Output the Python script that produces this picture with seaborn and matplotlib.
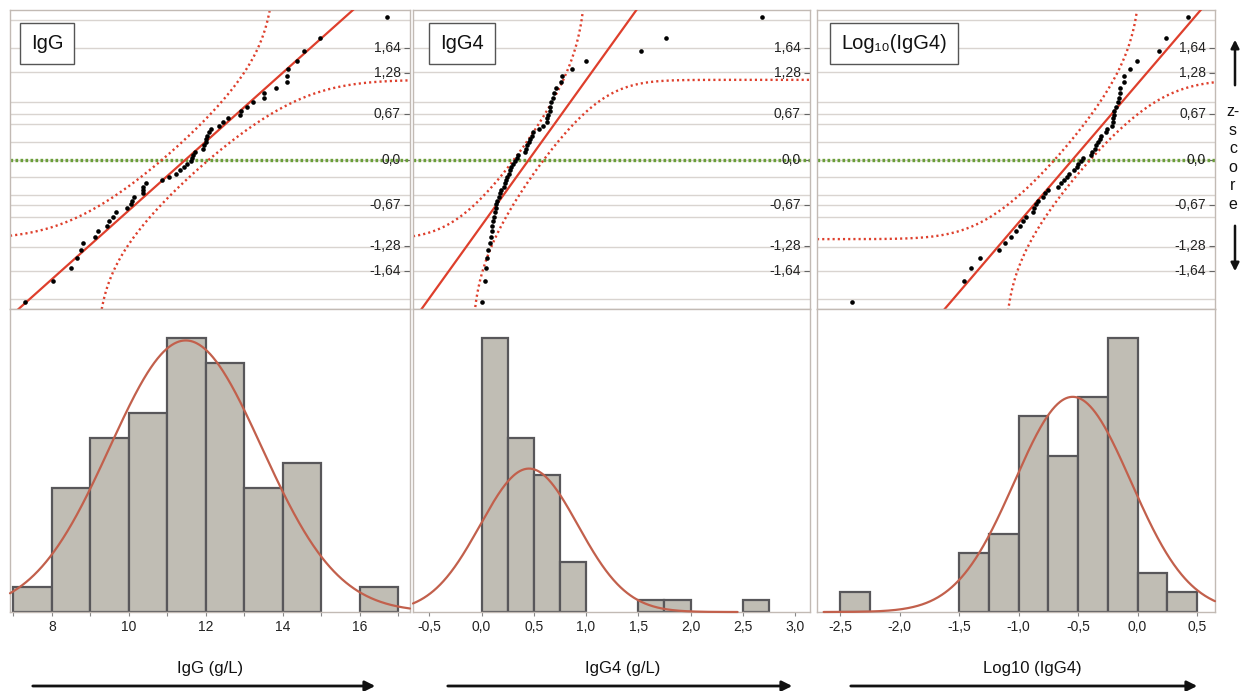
import numpy as np
import pandas as pd
import matplotlib
matplotlib.use("Agg")
import matplotlib.pyplot as plt
import matplotlib.transforms as mtransforms
from matplotlib.patches import FancyArrowPatch
from statistics import NormalDist
import seaborn as sns

# ---------------- data ----------------
igg = [7.30, 8.03, 8.49, 8.66, 8.75, 8.81, 9.12, 9.20, 9.44, 9.48,
       9.58, 9.66, 9.96, 10.05, 10.09, 10.13, 10.36, 10.36, 10.37, 10.44,
       10.87, 11.03, 11.22, 11.33, 11.43, 11.52, 11.61, 11.65, 11.67, 11.72,
       11.93, 11.95, 12.01, 12.01, 12.03, 12.08, 12.12, 12.35, 12.43, 12.58,
       12.88, 12.90, 13.07, 13.23, 13.51, 13.51, 13.82, 14.11, 14.11, 14.14,
       14.36, 14.55, 14.96, 16.69]
igg4 = [0.007, 0.032, 0.038, 0.048, 0.064, 0.077, 0.086, 0.096, 0.102, 0.108,
        0.118, 0.128, 0.134, 0.140, 0.150, 0.166, 0.175, 0.190, 0.213, 0.223,
        0.236, 0.248, 0.261, 0.272, 0.284, 0.303, 0.319, 0.335, 0.351, 0.411,
        0.421, 0.437, 0.453, 0.459, 0.485, 0.497, 0.548, 0.587, 0.622, 0.628,
        0.635, 0.651, 0.654, 0.660, 0.682, 0.692, 0.708, 0.763, 0.772, 0.868,
        0.995, 1.530, 1.767, 2.686]
log_igg4 = [-2.400, -1.463, -1.401, -1.328, -1.163, -1.112, -1.062, -1.022, -0.986, -0.964,
            -0.936, -0.883, -0.868, -0.854, -0.840, -0.799, -0.782, -0.756, -0.672, -0.641,
            -0.622, -0.593, -0.580, -0.538, -0.509, -0.502, -0.475, -0.459, -0.391, -0.383,
            -0.361, -0.347, -0.336, -0.319, -0.307, -0.265, -0.255, -0.215, -0.210, -0.210,
            -0.201, -0.196, -0.179, -0.168, -0.159, -0.151, -0.147, -0.117, -0.111, -0.067,
            -0.005, 0.180, 0.242, 0.424]

titles = ["IgG", "IgG4", "Log\u2081\u2080(IgG4)"]
xlabels = ["IgG (g/L)", "IgG4 (g/L)", "Log10 (IgG4)"]

igg_bins = [7, 8, 9, 10, 11, 12, 13, 14, 15, 16, 17]
igg4_bins = [0.0, 0.25, 0.5, 0.75, 1.0, 1.25, 1.5, 1.75, 2.0, 2.25, 2.5, 2.75]
log_bins = [-2.5, -2.25, -2.0, -1.75, -1.5, -1.25, -1.0, -0.75, -0.5, -0.25, 0.0, 0.25, 0.5]

igg_ticks = [8, 10, 12, 14, 16]
igg_ticklabels = ["8", "10", "12", "14", "16"]
igg_minor = [7, 9, 11, 13, 15, 17]
igg4_ticks = [-0.5, 0.0, 0.5, 1.0, 1.5, 2.0, 2.5, 3.0]
igg4_ticklabels = ["-0,5", "0,0", "0,5", "1,0", "1,5", "2,0", "2,5", "3,0"]
log_ticks = [-2.5, -2.0, -1.5, -1.0, -0.5, 0.0, 0.5]
log_ticklabels = ["-2,5", "-2,0", "-1,5", "-1,0", "-0,5", "0,0", "0,5"]

z_values = [1.64, 1.28, 0.67, 0.0, -0.67, -1.28, -1.64]
z_labels = ["1,64", "1,28", "0,67", "0,0", "-0,67", "-1,28", "-1,64"]
grid_probs = [0.02, 0.05, 0.10, 0.20, 0.25, 0.30, 0.40, 0.50,
              0.60, 0.70, 0.75, 0.80, 0.90, 0.95, 0.98]

# ---------------- style / layout ----------------
sns.set_style("white")
plt.rcParams["font.family"] = ["Liberation Sans", "DejaVu Sans"]

W, H = 1242, 691
fig = plt.figure(figsize=(W / 100, H / 100), dpi=100)

FRAME = "#c2bab4"
GRID = "#d9d4d0"
RED = "#de3f2c"
CURVE = "#c2604c"
BAR = "#c0bdb4"
BAR_EDGE = "#58575a"
GREEN = "#6a9e3a"

cols = [(10, 410), (413, 810), (817, 1215)]
top_y = (10, 309)
bot_y = (309, 612)


def rect(x0, x1, y0, y1):
    return [x0 / W, 1 - y1 / H, (x1 - x0) / W, (y1 - y0) / H]


panels = [
    dict(data=igg, bins=igg_bins, ticks=igg_ticks, labels=igg_ticklabels, minor=igg_minor,
         xlim=(6.91, 17.30), curve=(6.91, 17.30), title_x=0.052),
    dict(data=igg4, bins=igg4_bins, ticks=igg4_ticks, labels=igg4_ticklabels, minor=None,
         xlim=(-0.656, 3.143), curve=(-0.656, 2.45), title_x=0.068),
    dict(data=log_igg4, bins=log_bins, ticks=log_ticks, labels=log_ticklabels, minor=None,
         xlim=(-2.696, 0.651), curve=(-2.64, 0.651), title_x=0.060),
]

nd = NormalDist()
grid_z = [nd.inv_cdf(p) for p in grid_probs]

for i, P in enumerate(panels):
    x0, x1 = cols[i]
    data = np.sort(np.asarray(P["data"], dtype=float))
    n = len(data)
    mu = data.mean()
    sd = data.std(ddof=1)
    bw = P["bins"][1] - P["bins"][0]

    # ---------- top: normal quantile plot ----------
    axq = fig.add_axes(rect(x0, x1, *top_y))
    axq.set_xlim(*P["xlim"])
    axq.set_ylim(-2.2, 2.2)
    for gz in grid_z:
        axq.axhline(gz, color=GRID, lw=1.0, zorder=0)
    axq.axhline(0.0, color=GREEN, lw=2.4, ls=(0, (0.8, 0.7)), zorder=1)

    xs = np.linspace(P["xlim"][0], P["xlim"][1], 4000)
    t = (xs - mu) / sd
    cdf = np.array([nd.cdf(v) for v in t])
    D = 0.886 / np.sqrt(n)
    for sign in (1, -1):
        p = cdf + sign * D
        z = np.full_like(xs, np.nan)
        ok = (p > 1e-7) & (p < 1 - 1e-7)
        z[ok] = [nd.inv_cdf(v) for v in p[ok]]
        axq.plot(xs, z, color=RED, lw=1.7, ls=(0, (0.9, 1.3)), zorder=2)
    axq.plot(xs, t, color=RED, lw=1.6, zorder=3)

    zq = [nd.inv_cdf(k / (n + 1)) for k in range(1, n + 1)]
    sns.scatterplot(x=data, y=zq, ax=axq, color="black", s=11, linewidth=0, zorder=4)

    axq.set_xticks([])
    axq.set_yticks(z_values)
    axq.yaxis.tick_right()
    axq.tick_params(axis="y", direction="in", length=4, width=0.8, color="#666666",
                    labelright=False, right=True, left=False)
    tr = mtransforms.blended_transform_factory(axq.transAxes, axq.transData)
    wpx = x1 - x0
    for zv, zl in zip(z_values, z_labels):
        axq.text(1 - 9 / wpx, zv, zl, transform=tr, ha="right", va="center",
                 fontsize=10, color="#222222", zorder=5)
    for s in axq.spines.values():
        s.set_color(FRAME)
        s.set_linewidth(1.0)
    axq.text(P["title_x"], 0.887, titles[i], transform=axq.transAxes, ha="left", va="center",
             fontsize=14.5, color="#111111", zorder=6,
             bbox=dict(boxstyle="square,pad=0.55", fc="white", ec="#555555", lw=1.0))

    # ---------- bottom: histogram ----------
    axh = fig.add_axes(rect(x0, x1, *bot_y))
    sns.histplot(x=data, bins=P["bins"], ax=axh, color=BAR, edgecolor=BAR_EDGE,
                 linewidth=1.6, alpha=1.0)
    for patch in axh.patches:
        if patch.get_height() == 0:
            patch.set_visible(False)
    counts, _ = np.histogram(data, bins=P["bins"])
    axh.set_xlim(*P["xlim"])
    axh.set_ylim(0, counts.max() * 1.107)
    xc = np.linspace(P["curve"][0], P["curve"][1], 600)
    yc = n * bw * np.exp(-0.5 * ((xc - mu) / sd) ** 2) / (sd * np.sqrt(2 * np.pi))
    axh.plot(xc, yc, color=CURVE, lw=1.6, zorder=5, clip_on=False)
    axh.set_xticks(P["ticks"])
    axh.set_xticklabels(P["labels"])
    if P["minor"]:
        axh.set_xticks(P["minor"], minor=True)
    axh.tick_params(axis="x", which="both", direction="out", length=3, width=0.8,
                    color="#888888", labelsize=10, labelcolor="#222222", bottom=True, pad=3)
    axh.set_yticks([])
    axh.set_ylabel("")
    axh.set_xlabel("")
    for s in axh.spines.values():
        s.set_color(FRAME)
        s.set_linewidth(1.0)

    # ---------- axis caption + arrow ----------
    cx = [210, 623, 1032][i]
    fig.text(cx / W, 1 - 668 / H, xlabels[i], ha="center", va="center", fontsize=12, color="#111111")
    ax0, ax1 = [(30, 378), (445, 795), (848, 1200)][i]
    fig.add_artist(FancyArrowPatch((ax0 / W, 1 - 686 / H), (ax1 / W, 1 - 686 / H),
                                   transform=fig.transFigure, arrowstyle="-|>",
                                   mutation_scale=15, lw=2.0, color="#111111"))

# z-score label and arrows at the right
fig.text(1233 / W, 1 - 158 / H, "z-\ns\nc\no\nr\ne", ha="center", va="center",
         fontsize=11.5, linespacing=1.3, color="#111111")
fig.add_artist(FancyArrowPatch((1235 / W, 1 - 88 / H), (1235 / W, 1 - 37 / H),
                               transform=fig.transFigure, arrowstyle="-|>",
                               mutation_scale=12, lw=1.8, color="#111111"))
fig.add_artist(FancyArrowPatch((1235 / W, 1 - 223 / H), (1235 / W, 1 - 274 / H),
                               transform=fig.transFigure, arrowstyle="-|>",
                               mutation_scale=12, lw=1.8, color="#111111"))

fig.savefig("out.png", dpi=100)
